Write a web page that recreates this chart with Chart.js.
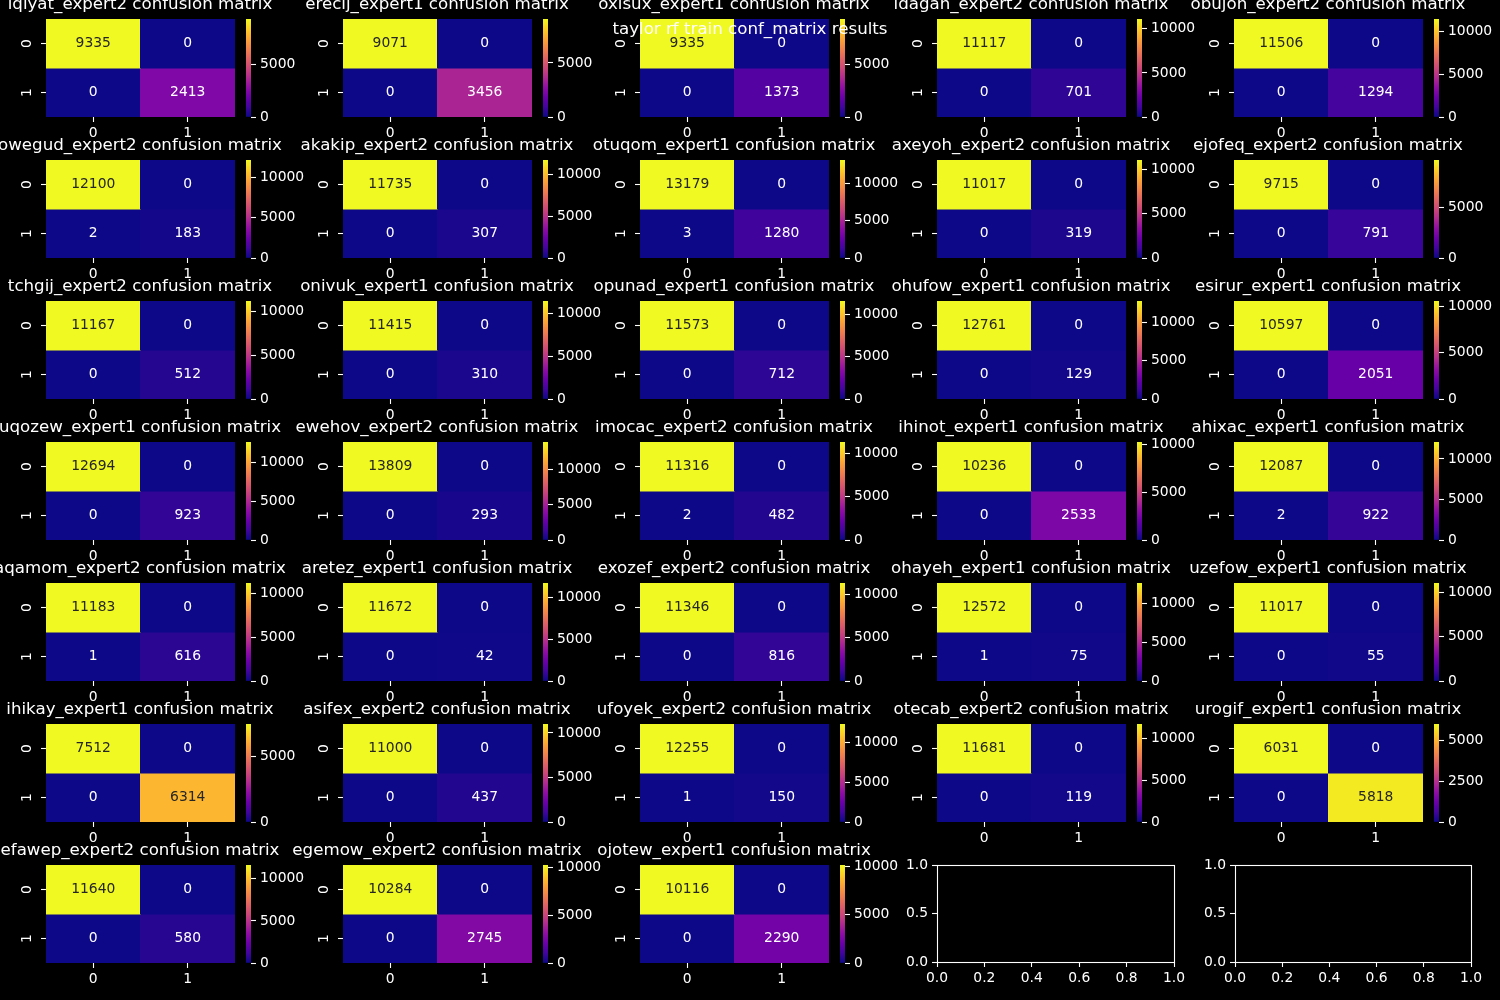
<!DOCTYPE html>
<html><head><meta charset="utf-8">
<script src="https://cdn.jsdelivr.net/npm/chart.js@4"></script>
<style>
body{margin:0;background:#000;}
#fig{position:relative;width:1500px;height:1000px;overflow:hidden;background:#000;}
#fig canvas{position:absolute;}
#sup{position:absolute;left:0;top:19px;width:1500px;text-align:center;color:#fff;font-family:'DejaVu Sans';font-size:16.67px;line-height:20px;z-index:100;white-space:nowrap;}
</style></head><body><div id="fig"><div id="sup">taylor rf train conf_matrix results</div></div>
<script>
// ---- data ----
const names = [
 'iqiyat_expert2','erecij_expert1','oxisux_expert1','idagah_expert2','obujoh_expert2',
 'owegud_expert2','akakip_expert2','otuqom_expert1','axeyoh_expert2','ejofeq_expert2',
 'tchgij_expert2','onivuk_expert1','opunad_expert1','ohufow_expert1','esirur_expert1',
 'uqozew_expert1','ewehov_expert2','imocac_expert2','ihinot_expert1','ahixac_expert1',
 'aqamom_expert2','aretez_expert1','exozef_expert2','ohayeh_expert1','uzefow_expert1',
 'ihikay_expert1','asifex_expert2','ufoyek_expert2','otecab_expert2','urogif_expert1',
 'efawep_expert2','egemow_expert2','ojotew_expert1'];
const trueNeg  = [9335,9071,9335,11117,11506, 12100,11735,13179,11017,9715, 11167,11415,11573,12761,10597,
                  12694,13809,11316,10236,12087, 11183,11672,11346,12572,11017, 7512,11000,12255,11681,6031,
                  11640,10284,10116];
const falsePos = [0,0,0,0,0, 0,0,0,0,0, 0,0,0,0,0, 0,0,0,0,0, 0,0,0,0,0, 0,0,0,0,0, 0,0,0];
const falseNeg = [0,0,0,0,0, 2,0,3,0,0, 0,0,0,0,0, 0,0,2,0,2, 1,0,0,1,0, 0,0,1,0,0, 0,0,0];
const truePos  = [2413,3456,1373,701,1294, 183,307,1280,319,791, 512,310,712,129,2051,
                  923,293,482,2533,922, 616,42,816,75,55, 6314,437,150,119,5818,
                  580,2745,2290];
const cbarSteps = [5000,5000,5000,5000,5000, 5000,5000,5000,5000,5000, 5000,5000,5000,5000,5000,
                   5000,5000,5000,5000,5000, 5000,5000,5000,5000,5000, 5000,5000,5000,5000,2500,
                   5000,5000,5000];
const classLabels = ['0','1'];
const titleSuffix = ' confusion matrix';
const emptyXTicks = [0, 0.2, 0.4, 0.6, 0.8, 1.0];
const emptyYTicks = [0, 0.5, 1.0];

// ---- style ----
const FONT = 'DejaVu Sans';
Chart.defaults.font.family = FONT;
Chart.defaults.color = '#fff';
const plasmaStops = ['#0d0887','#41049d','#6a00a8','#8f0da4','#b12a90','#cc4778','#e16462','#f2844b','#fca636','#fcce25','#f0f921'];
function hexRgb(h){return [parseInt(h.slice(1,3),16),parseInt(h.slice(3,5),16),parseInt(h.slice(5,7),16)];}
const plasmaRgb = plasmaStops.map(hexRgb);
function plasma(t){
  t = Math.max(0, Math.min(1, t));
  const p = t*(plasmaRgb.length-1); const i = Math.min(Math.floor(p), plasmaRgb.length-2); const f = p-i;
  const a = plasmaRgb[i], b = plasmaRgb[i+1];
  return [0,1,2].map(k=>Math.round(a[k]+(b[k]-a[k])*f));
}
function rgbStr(c){return 'rgb('+c[0]+','+c[1]+','+c[2]+')';}
function lum(c){
  const l = c.map(v=>{v/=255; return v<=0.03928? v/12.92 : Math.pow((v+0.055)/1.055,2.4);});
  return 0.2126*l[0]+0.7152*l[1]+0.0722*l[2];
}
const tickFont = {family:FONT, size:13.89};
const tickGrid = {drawOnChartArea:false, drawTicks:true, tickLength:5, tickColor:'#fff', tickWidth:1.1};

const annotPlugin = {
  id:'annot',
  afterDatasetsDraw(chart){
    const c = chart.ctx; c.save();
    c.font = '13.89px "DejaVu Sans"'; c.textAlign='center'; c.textBaseline='middle';
    chart.data.datasets.forEach((ds,i)=>{
      chart.getDatasetMeta(i).data.forEach((bar,j)=>{
        c.fillStyle = ds.textColors[j];
        c.fillText(String(ds.vals[j]), bar.x, (bar.y+bar.base)/2);
      });
    });
    c.restore();
  }
};
const framePlugin = {
  id:'frame',
  afterDraw(chart){
    const a = chart.chartArea, c = chart.ctx; c.save();
    c.strokeStyle='#fff'; c.lineWidth=1.1;
    c.strokeRect(Math.round(a.left)+0.5, Math.round(a.top)+0.5, Math.round(a.right-a.left), Math.round(a.bottom-a.top));
    c.restore();
  }
};

const fig = document.getElementById('fig');
function mkCanvas(left, top, w, h){
  const cv = document.createElement('canvas');
  cv.width = w; cv.height = h;
  cv.style.left = left+'px'; cv.style.top = top+'px';
  cv.style.width = w+'px'; cv.style.height = h+'px';
  fig.insertBefore(cv, document.getElementById('sup'));
  return cv;
}

const COLX = 297, ROWY = 141, HX0 = 46, HY0 = 19, HW = 189, HH = 98;

names.forEach((name, k)=>{
  const row = Math.floor(k/5), col = k%5;
  const hx = HX0 + COLX*col, hy = HY0 + ROWY*row;
  const m = [[trueNeg[k], falsePos[k]],[falseNeg[k], truePos[k]]];
  const vmax = Math.max(trueNeg[k], falsePos[k], falseNeg[k], truePos[k]);
  const cols = m.map(r=>r.map(v=>plasma(v/vmax)));
  const datasets = m.map((r,ri)=>({
    data: r.map(()=>[ri, ri+1]),
    vals: r,
    backgroundColor: cols[ri].map(rgbStr),
    textColors: cols[ri].map(c=> lum(c) > 0.408 ? '#262626' : '#ffffff'),
    barPercentage:1, categoryPercentage:1, grouped:false, borderWidth:0, inflateAmount:0.5
  }));
  // heatmap
  const LW = 56, RW = 55, TOPPAD = 4, XH = 30;
  const cw = LW + HW + RW, chh = TOPPAD + 24 + HH + XH;
  const cv = mkCanvas(hx - LW, hy - 28, cw, chh);
  new Chart(cv, {
    type:'bar',
    data:{labels: classLabels, datasets},
    options:{
      responsive:false, animation:false, devicePixelRatio:1,
      layout:{padding:{top:TOPPAD, right:0, left:0, bottom:0}},
      plugins:{legend:{display:false}, tooltip:{enabled:false},
        title:{display:true, text: name + titleSuffix, color:'#fff',
          font:{family:FONT, size:16.67, weight:'normal', lineHeight:1.2}, padding:{top:0, bottom:4}}},
      scales:{
        x:{type:'category', offset:true,
          grid:Object.assign({offset:false}, tickGrid),
          border:{display:false},
          ticks:{color:'#fff', font:tickFont, padding:3, maxRotation:0, minRotation:0},
          afterFit(s){ s.height = XH; }},
        y:{type:'linear', min:0, max:2, reverse:true,
          afterBuildTicks(s){ s.ticks = classLabels.map((_,i)=>({value:i+0.5})); },
          ticks:{color:'#fff', font:tickFont, minRotation:90, maxRotation:90, padding:9, crossAlign:'center',
            callback:(v)=>classLabels[Math.floor(v)]},
          grid:tickGrid,
          border:{display:false},
          afterFit(s){ s.width = LW; }},
        yr:{type:'linear', position:'right', display:true,
          ticks:{display:false}, grid:{display:false}, border:{display:false},
          afterFit(s){ s.width = RW; }}
      }
    },
    plugins:[annotPlugin]
  });
  // colorbar
  const cbx = hx + 200, CBW = 5, CBR = 62, VP = 16;
  const step = cbarSteps[k];
  const cb = mkCanvas(cbx, hy - VP, CBW + CBR, HH + 2*VP);
  new Chart(cb, {
    type:'bar',
    data:{labels:[''], datasets:[{data:[vmax], borderWidth:0, barPercentage:1, categoryPercentage:1,
      backgroundColor:(ctx)=>{
        const a = ctx.chart.chartArea; if(!a) return plasmaStops[0];
        const g = ctx.chart.ctx.createLinearGradient(0, a.bottom, 0, a.top);
        plasmaStops.forEach((s,i)=>g.addColorStop(i/(plasmaStops.length-1), s));
        return g;
      }}]},
    options:{
      responsive:false, animation:false, devicePixelRatio:1,
      layout:{padding:{top:VP, bottom:VP, left:0, right:0}},
      plugins:{legend:{display:false}, tooltip:{enabled:false}},
      scales:{
        x:{display:false},
        y:{position:'right', min:0, max:vmax,
          afterBuildTicks(s){ const t=[]; for(let v=0; v<=vmax; v+=step) t.push({value:v}); s.ticks=t; },
          ticks:{color:'#fff', font:tickFont, padding:4, callback:(v)=>String(v)},
          grid:tickGrid,
          border:{display:false},
          afterFit(s){ s.width = CBR; }}
      }
    }
  });
});

// empty axes
[{left:937, w:237},{left:1235, w:236}].forEach(ax=>{
  const top = HY0 + ROWY*6, LW = 40, RP = 22, h = 97, TP = 16;
  const cv = mkCanvas(ax.left - LW, top - TP, LW + ax.w + RP, TP + h + 30);
  new Chart(cv, {
    type:'scatter',
    data:{datasets:[]},
    options:{
      responsive:false, animation:false, devicePixelRatio:1,
      layout:{padding:{top:TP, right:RP, left:0, bottom:0}},
      plugins:{legend:{display:false}, tooltip:{enabled:false}},
      scales:{
        x:{type:'linear', min:0, max:1,
          afterBuildTicks(s){ s.ticks = emptyXTicks.map(v=>({value:v})); },
          ticks:{color:'#fff', font:tickFont, padding:3, maxRotation:0, callback:(v)=>Number(v).toFixed(1)},
          grid:tickGrid, border:{display:false}, afterFit(s){ s.height = 30; }},
        y:{type:'linear', min:0, max:1,
          afterBuildTicks(s){ s.ticks = emptyYTicks.map(v=>({value:v})); },
          ticks:{color:'#fff', font:tickFont, padding:4, callback:(v)=>Number(v).toFixed(1)},
          grid:tickGrid, border:{display:false}, afterFit(s){ s.width = LW; }}
      }
    },
    plugins:[framePlugin]
  });
});
</script></body></html>
